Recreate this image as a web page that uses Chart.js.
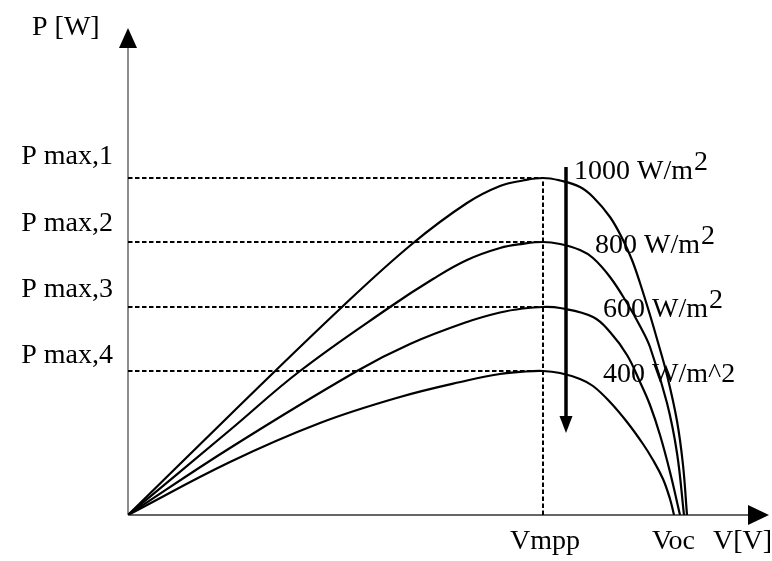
<!DOCTYPE html>
<html lang="en">
<head>
  <meta charset="UTF-8" />
  <title>P-V curves</title>
  <script src="https://cdn.jsdelivr.net/npm/chart.js"></script>
  <style>
    body {
      margin: 0;
      background: #fff;
    }
    .wrap {
      width: 772px;
      height: 561px;
    }
  </style>
</head>
<body>
  <div class="wrap"><canvas id="pvChart" width="772" height="561"></canvas></div>
  <script>
    // voltage / power (arbitrary units)
    const v1000 = [0, 10.2, 21.4, 28.4, 33.9, 37.2, 39.5, 41.5, 43.2, 45.2, 46.5, 48.2, 49.5, 50.4, 51.2, 52.2, 52.9, 53.9, 54.9, 55.5, 55.9];
    const p1000 = [0, 10.0, 20.8, 27.1, 31.2, 32.9, 33.45, 33.7, 33.45, 32.8, 31.8, 29.8, 27.5, 25.5, 23.2, 20.0, 17.6, 14.0, 9.4, 5.0, 0];
    const v800 = [0, 10.2, 17.2, 26.2, 30.5, 33.9, 37.2, 39.5, 41.5, 43.2, 45.2, 46.5, 48.2, 49.9, 51.2, 52.2, 53.9, 54.9, 55.6];
    const p800 = [0, 8.5, 14.4, 20.8, 23.6, 25.5, 26.7, 27.12, 27.3, 27.1, 26.5, 25.7, 23.8, 21.2, 18.9, 16.8, 11.2, 6.2, 0];
    const v600 = [0, 10.2, 22.9, 28.2, 33.9, 37.2, 39.5, 41.5, 43.2, 46.5, 48.2, 49.9, 51.2, 52.2, 53.2, 54.2, 55.2];
    const p600 = [0, 6.7, 14.4, 17.1, 19.3, 20.25, 20.65, 20.8, 20.7, 19.8, 18.3, 16.0, 13.3, 11.0, 8.0, 4.3, 0];
    const v400 = [0, 10.2, 19.2, 27.2, 33.9, 37.2, 39.5, 41.5, 43.2, 45.2, 46.5, 48.2, 49.9, 51.5, 52.5, 53.5, 54.2, 54.6];
    const p400 = [0, 5.3, 9.2, 11.8, 13.45, 14.1, 14.33, 14.4, 14.2, 13.6, 12.9, 11.3, 9.3, 7.1, 5.5, 3.6, 1.6, 0];

    const vmpp = 41.5;
    const pmax = [33.7, 27.3, 20.8, 14.4];
    const pmaxLabels = ['P max,1', 'P max,2', 'P max,3', 'P max,4'];
    const irradianceLabels = ['1000 W/m', '800 W/m', '600 W/m', '400 W/m^2'];
    const irradianceSup = ['2', '2', '2', ''];
    const xAxisLabels = ['Vmpp', 'Voc', 'V[V]'];
    const yAxisLabel = 'P [W]';

    const xMax = 64.1;
    const yMax = 48.7;

    const FONT = '28px "Liberation Serif", "Times New Roman", serif';

    function pts(xs, ys) {
      return xs.map((x, i) => ({ x: x, y: ys[i] }));
    }

    const curveStyle = {
      borderColor: '#000',
      borderWidth: 2.2,
      pointRadius: 0,
      fill: false,
      tension: 0.4
    };
    const dashStyle = {
      borderColor: '#000',
      borderWidth: 2,
      borderDash: [4.5, 2.5],
      pointRadius: 0,
      fill: false,
      tension: 0
    };

    const datasets = [];
    pmax.forEach(p => {
      datasets.push(Object.assign({ data: [{ x: 0, y: p }, { x: vmpp, y: p }] }, dashStyle));
    });
    datasets.push(Object.assign({ data: [{ x: vmpp, y: 0 }, { x: vmpp, y: pmax[0] }] }, dashStyle));
    datasets.push(Object.assign({ data: pts(v1000, p1000) }, curveStyle));
    datasets.push(Object.assign({ data: pts(v800, p800) }, curveStyle));
    datasets.push(Object.assign({ data: pts(v600, p600) }, curveStyle));
    datasets.push(Object.assign({ data: pts(v400, p400) }, curveStyle));

    const overlay = {
      id: 'overlay',
      beforeDatasetsDraw(chart) {
        const { ctx } = chart;
        const xs = chart.scales.x, ys = chart.scales.y;
        const x0 = xs.getPixelForValue(0), y0 = ys.getPixelForValue(0);
        const top = ys.getPixelForValue(yMax), right = xs.getPixelForValue(xMax);
        ctx.save();
        // axes
        ctx.strokeStyle = '#666';
        ctx.lineWidth = 1.5;
        ctx.beginPath();
        ctx.moveTo(x0, y0);
        ctx.lineTo(x0, top + 10);
        ctx.stroke();
        ctx.lineWidth = 2;
        ctx.beginPath();
        ctx.moveTo(x0, y0);
        ctx.lineTo(right - 10, y0);
        ctx.stroke();
        // arrow heads
        ctx.fillStyle = '#000';
        ctx.beginPath();
        ctx.moveTo(x0, top);
        ctx.lineTo(x0 + 9, top + 20);
        ctx.lineTo(x0 - 9, top + 20);
        ctx.closePath();
        ctx.fill();
        ctx.beginPath();
        ctx.moveTo(right, y0);
        ctx.lineTo(right - 21, y0 - 10);
        ctx.lineTo(right - 21, y0 + 10);
        ctx.closePath();
        ctx.fill();
        ctx.restore();
      },
      afterDatasetsDraw(chart) {
        const { ctx } = chart;
        const xs = chart.scales.x, ys = chart.scales.y;
        const x0 = xs.getPixelForValue(0), y0 = ys.getPixelForValue(0);
        ctx.save();
        ctx.fillStyle = '#000';
        ctx.font = FONT;
        ctx.textBaseline = 'alphabetic';

        // axis titles
        ctx.textAlign = 'left';
        ctx.fillText(yAxisLabel, 32, 35);
        ctx.textAlign = 'center';
        ctx.fillText(xAxisLabels[0], xs.getPixelForValue(vmpp) + 2, y0 + 34);
        ctx.textAlign = 'left';
        ctx.fillText(xAxisLabels[1], xs.getPixelForValue(52.4), y0 + 34);
        ctx.fillText(xAxisLabels[2], xs.getPixelForValue(58.5), y0 + 34);

        // P max labels
        const lift = [14, 11, 10, 8];
        ctx.textAlign = 'right';
        pmax.forEach((p, i) => {
          ctx.fillText(pmaxLabels[i], x0 - 15, ys.getPixelForValue(p) - lift[i]);
        });

        // irradiance labels
        const lx = [44.6, 46.7, 47.5, 47.5];
        const drop = [1, 11, 10, 11];
        ctx.textAlign = 'left';
        pmax.forEach((p, i) => {
          const tx = xs.getPixelForValue(lx[i]);
          const ty = ys.getPixelForValue(p) + drop[i];
          ctx.fillText(irradianceLabels[i], tx, ty);
          if (irradianceSup[i]) {
            const w = ctx.measureText(irradianceLabels[i]).width;
            ctx.fillText(irradianceSup[i], tx + w + 1, ty - 9);
          }
        });

        // decreasing irradiance arrow
        const ax = xs.getPixelForValue(43.8);
        const aTop = ys.getPixelForValue(34.8);
        const aTip = ys.getPixelForValue(8.2);
        ctx.strokeStyle = '#000';
        ctx.lineWidth = 3.5;
        ctx.beginPath();
        ctx.moveTo(ax, aTop);
        ctx.lineTo(ax, aTip - 12);
        ctx.stroke();
        ctx.beginPath();
        ctx.moveTo(ax, aTip);
        ctx.lineTo(ax - 6.5, aTip - 17);
        ctx.lineTo(ax + 6.5, aTip - 17);
        ctx.closePath();
        ctx.fill();
        ctx.restore();
      }
    };

    new Chart(document.getElementById('pvChart').getContext('2d'), {
      type: 'line',
      data: { datasets: datasets },
      options: {
        responsive: false,
        animation: false,
        layout: { padding: { left: 128, right: 3, top: 28, bottom: 46 } },
        plugins: {
          legend: { display: false },
          tooltip: { enabled: false }
        },
        scales: {
          x: { type: 'linear', min: 0, max: xMax, display: false },
          y: { type: 'linear', min: 0, max: yMax, display: false }
        }
      },
      plugins: [overlay]
    });
  </script>
</body>
</html>
